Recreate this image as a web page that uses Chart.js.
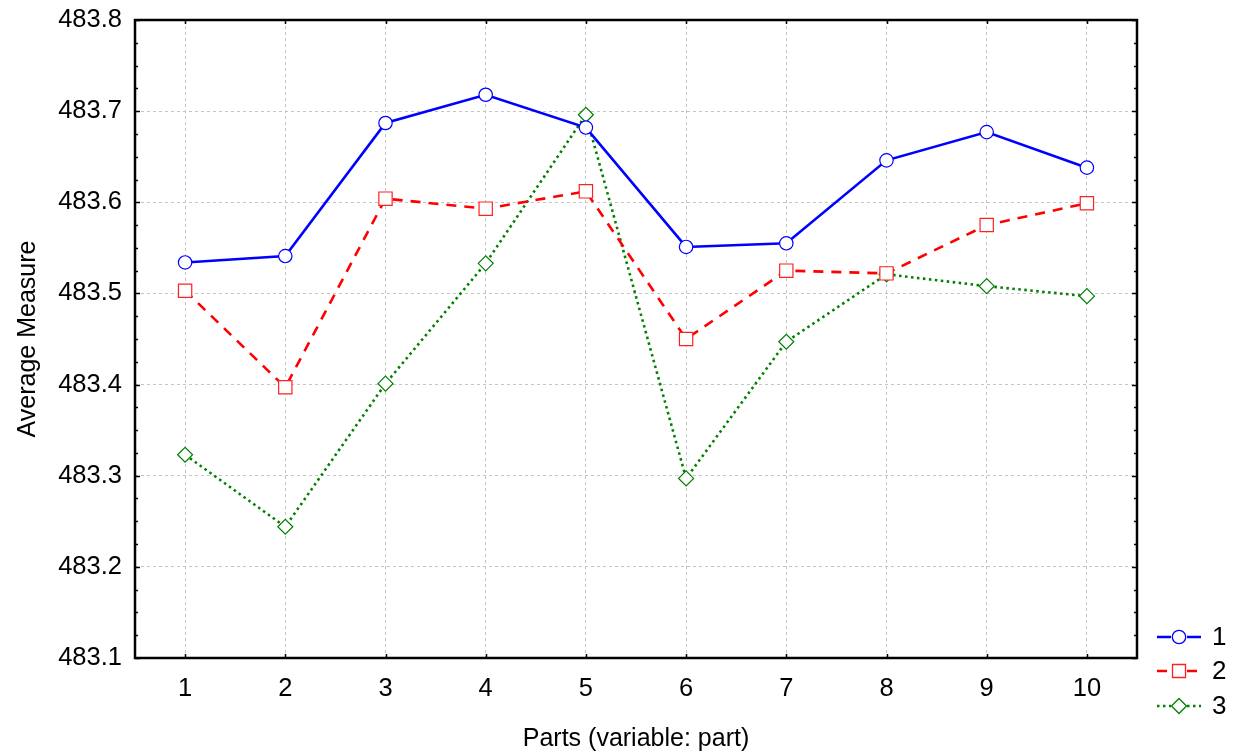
<!DOCTYPE html>
<html>
<head>
<meta charset="utf-8">
<script src="https://cdn.jsdelivr.net/npm/chart.js@4"></script>
<style>
  html, body { margin: 0; padding: 0; background: #fff; }
  #wrap { width: 1233px; height: 755px; }
</style>
</head>
<body>
<div id="wrap"><canvas id="chart" width="1233" height="755"></canvas></div>
<script>
// data
const parts = ['1', '2', '3', '4', '5', '6', '7', '8', '9', '10'];
const seriesNames = ['1', '2', '3'];
const op1 = [483.534, 483.541, 483.687, 483.718, 483.682, 483.551, 483.555, 483.646, 483.677, 483.638];
const op2 = [483.503, 483.397, 483.604, 483.593, 483.612, 483.450, 483.525, 483.522, 483.575, 483.599];
const op3 = [483.323, 483.244, 483.401, 483.533, 483.696, 483.297, 483.447, 483.521, 483.508, 483.497];
const yMin = 483.1, yMax = 483.8, yStep = 0.1, yMinorStep = 0.025;

const FONT = 'Arial, "Liberation Sans", sans-serif';

// frame, inner ticks and a hand-made legend
const framePlugin = {
    id: 'frame',
    afterDraw(chart) {
        const { ctx, chartArea: a, scales } = chart;
        const x = scales.x, y = scales.y;
        ctx.save();
        ctx.strokeStyle = '#000';
        ctx.lineWidth = 1.5;
        ctx.beginPath();
        // minor + major ticks on left and right
        const n = Math.round((yMax - yMin) / yMinorStep);
        for (let i = 0; i <= n; i++) {
            const py = Math.round(y.getPixelForValue(yMin + i * yMinorStep)) + 0.5;
            const len = i % 4 === 0 ? 5 : 3;
            ctx.moveTo(a.left, py); ctx.lineTo(a.left + len, py);
            ctx.moveTo(a.right, py); ctx.lineTo(a.right - len, py);
        }
        parts.forEach((p, i) => {
            const px = Math.round(x.getPixelForValue(i)) + 0.5;
            ctx.moveTo(px, a.top); ctx.lineTo(px, a.top + 4);
            ctx.moveTo(px, a.bottom); ctx.lineTo(px, a.bottom - 4);
        });
        ctx.stroke();
        ctx.lineWidth = 2.5;
        ctx.strokeRect(a.left, a.top, a.right - a.left, a.bottom - a.top);

        // legend
        const ly = [637, 671, 706];
        chart.data.datasets.forEach((ds, i) => {
            const cy = ly[i];
            ctx.strokeStyle = ds.borderColor;
            ctx.lineWidth = ds.borderWidth;
            ctx.setLineDash(ds.borderDash || []);
            ctx.beginPath();
            ctx.moveTo(1157, cy); ctx.lineTo(1171, cy);
            ctx.moveTo(1187, cy); ctx.lineTo(1201, cy);
            ctx.stroke();
            ctx.setLineDash([]);
            ctx.lineWidth = 1.3;
            ctx.strokeStyle = ds.pointBorderColor;
            ctx.fillStyle = '#fff';
            ctx.beginPath();
            if (ds.pointStyle === 'circle') {
                ctx.arc(1179, cy, 6.7, 0, Math.PI * 2);
            } else if (ds.pointStyle === 'rect') {
                ctx.rect(1172.5, cy - 6.5, 13, 13);
            } else {
                ctx.moveTo(1179, cy - 7.5); ctx.lineTo(1186.5, cy);
                ctx.lineTo(1179, cy + 7.5); ctx.lineTo(1171.5, cy);
                ctx.closePath();
            }
            ctx.fill();
            ctx.stroke();
            ctx.fillStyle = '#000';
            ctx.font = '26px ' + FONT;
            ctx.textAlign = 'left';
            ctx.textBaseline = 'middle';
            ctx.fillText(seriesNames[i], 1212, cy + 1);
        });
        ctx.restore();
    }
};

new Chart(document.getElementById('chart').getContext('2d'), {
    type: 'line',
    data: {
        labels: parts,
        datasets: [
            {
                label: seriesNames[0], data: op1,
                borderColor: '#0000ff', borderWidth: 2.6,
                pointStyle: 'circle', pointRadius: 6.7,
                pointBackgroundColor: '#fff', pointBorderColor: '#0000ff', pointBorderWidth: 1.2,
                tension: 0
            },
            {
                label: seriesNames[1], data: op2,
                borderColor: '#ff0000', borderWidth: 2.6, borderDash: [10, 8],
                pointStyle: 'rect', pointRadius: 9.4,
                pointBackgroundColor: '#fff', pointBorderColor: '#ff2020', pointBorderWidth: 1.2,
                tension: 0
            },
            {
                label: seriesNames[2], data: op3,
                borderColor: '#008000', borderWidth: 2.6, borderDash: [2.5, 3.5],
                pointStyle: 'rectRot', pointRadius: 7.5,
                pointBackgroundColor: '#fff', pointBorderColor: '#008000', pointBorderWidth: 1.2,
                tension: 0
            }
        ]
    },
    options: {
        responsive: false,
        animation: false,
        layout: { padding: { left: 0, top: 20, right: 96, bottom: 0 } },
        plugins: { legend: { display: false }, tooltip: { enabled: false } },
        scales: {
            x: {
                offset: true,
                grid: { color: '#c4c4c4', lineWidth: 1, drawTicks: false, offset: false },
                border: { display: false, dash: [3, 3] },
                ticks: { color: '#000', font: { family: FONT, size: 25.5 }, padding: 16, maxRotation: 0 },
                title: { display: true, text: 'Parts (variable: part)', color: '#000',
                         font: { family: FONT, size: 25 }, padding: { top: 0, bottom: 1 } },
                afterFit(s) { s.height = 97; s.paddingLeft = 0; s.paddingRight = 0; }
            },
            y: {
                min: yMin, max: yMax,
                grid: { color: '#c4c4c4', lineWidth: 1, drawTicks: false },
                border: { display: false, dash: [3, 3] },
                ticks: { stepSize: yStep, color: '#000', font: { family: FONT, size: 25.5 }, padding: 13,
                         callback: v => v.toFixed(1) },
                title: { display: true, text: 'Average Measure', color: '#000',
                         font: { family: FONT, size: 25 }, padding: { top: 13, bottom: 0 } },
                afterFit(s) { s.width = 135; s.paddingTop = 0; s.paddingBottom = 0; }
            }
        }
    },
    plugins: [framePlugin]
});
</script>
</body>
</html>
